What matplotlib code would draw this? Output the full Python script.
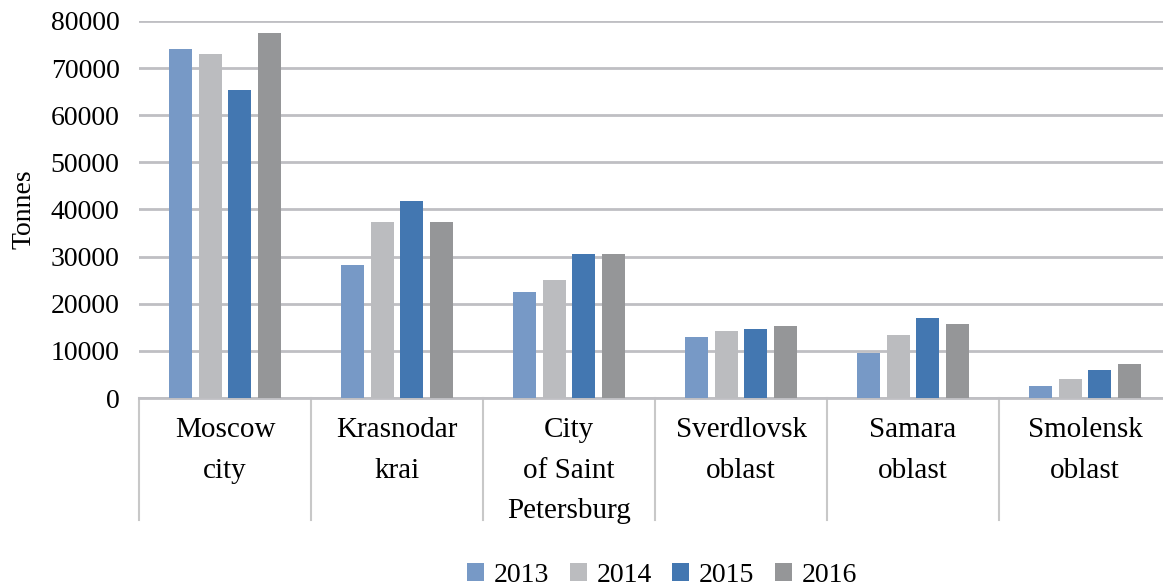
import matplotlib
matplotlib.use("Agg")
import matplotlib.pyplot as plt
import numpy as np
from matplotlib.transforms import blended_transform_factory
from matplotlib.patches import Patch

categories = ["Moscow\ncity", "Krasnodar\nkrai", "City\nof Saint\nPetersburg",
              "Sverdlovsk\noblast", "Samara\noblast", "Smolensk\noblast"]
years = ["2013", "2014", "2015", "2016"]
v2013 = [74000, 28200, 22500, 12900, 9600, 2500]
v2014 = [73000, 37300, 25000, 14200, 13400, 4000]
v2015 = [65300, 41800, 30600, 14600, 17000, 5900]
v2016 = [77400, 37300, 30600, 15300, 15700, 7200]
series = [v2013, v2014, v2015, v2016]
colors = ["#7799C6", "#BBBCBF", "#4377B1", "#959698"]
yticks = [0, 10000, 20000, 30000, 40000, 50000, 60000, 70000, 80000]

plt.rcParams['font.family'] = ['Liberation Serif', 'DejaVu Serif']
W, H = 1163, 588
fig = plt.figure(figsize=(W/100, H/100), dpi=100)
left, right, bottom, top = 139, 1171, 398, 21
ax = fig.add_axes([left/W, (H-bottom)/H, (right-left)/W, (bottom-top)/H])

n = len(categories)
x = np.arange(n)
step = 0.171
bw = 0.134
for i, (s, c) in enumerate(zip(series, colors)):
    ax.bar(x + (i-1.5)*step, s, width=bw, color=c, zorder=3, label=years[i])

ax.set_xlim(-0.5, n-0.5)
ax.set_ylim(0, 80000)
ax.set_yticks(yticks)
ax.set_yticklabels([str(t) for t in yticks], fontsize=20)
ax.yaxis.grid(True, color="#BFBFC3", linewidth=2, zorder=0)
ax.set_axisbelow(True)
ax.tick_params(axis='y', length=0, pad=14)
ax.tick_params(axis='x', length=0, pad=14)
ax.set_xticks(x)
ax.set_xticklabels(categories, fontsize=21, linespacing=1.72, va='top')
for sp in ['top', 'right', 'left']:
    ax.spines[sp].set_visible(False)
ax.spines['bottom'].set_color("#BFBFC3")
ax.spines['bottom'].set_linewidth(2)

trans = blended_transform_factory(ax.transData, ax.transAxes)
depth = (520-398)/(bottom-top)
for b in np.arange(n+1) - 0.5:
    ax.plot([b, b], [0, -depth], transform=trans, color="#C8C8C8", lw=1.5, clip_on=False)

ax.set_ylabel("Tonnes", fontsize=20, labelpad=10)

handles = [Patch(facecolor=c, label=y) for c, y in zip(colors, years)]
fig.legend(handles=handles, loc='center', bbox_to_anchor=(662/W, 1-575/H), ncol=4,
           frameon=False, fontsize=20, handlelength=0.6, handleheight=0.6,
           handletextpad=0.35, columnspacing=0.75)

fig.savefig("out.png", dpi=100)
